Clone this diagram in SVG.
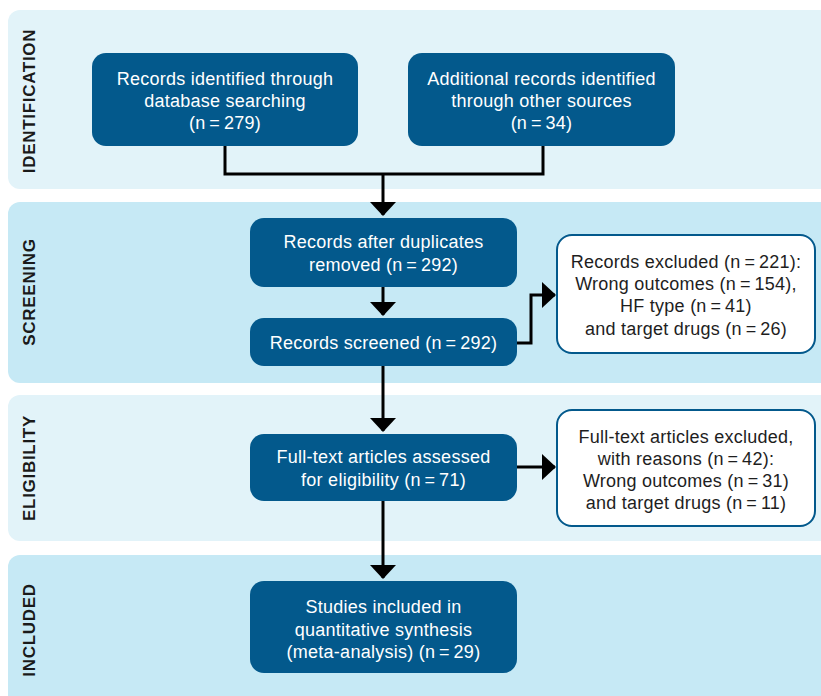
<svg xmlns="http://www.w3.org/2000/svg" width="821" height="696" viewBox="0 0 821 696">
<style>
.band1{fill:#e2f3f9}
.band2{fill:#c6e9f5}
.lab{font-family:"Liberation Sans",Arial,sans-serif;font-weight:bold;font-size:17px;fill:#1a1a1a;text-anchor:middle;letter-spacing:0.7px}
.nd{fill:#03598c}
.nt{font-family:"Liberation Sans",Arial,sans-serif;font-size:18px;fill:#ffffff;text-anchor:middle;letter-spacing:0.25px}
.ex{fill:#ffffff;stroke:#03598c;stroke-width:2}
.et{font-family:"Liberation Sans",Arial,sans-serif;font-size:18px;fill:#1e1e1e;text-anchor:middle;letter-spacing:0.25px}
.cn{fill:none;stroke:#000;stroke-width:3}
</style>
<defs>
<marker id="ah" viewBox="0 0 14 26" markerWidth="14" markerHeight="26" refX="13" refY="13" orient="auto" markerUnits="userSpaceOnUse">
<path d="M0,0 L14,13 L0,26 z" fill="#000"/>
</marker>
</defs>
<g id="bands">
<rect class="band1" x="8" y="10" width="830" height="179" rx="12"/>
<rect class="band2" x="8" y="202" width="830" height="181" rx="12"/>
<rect class="band1" x="8" y="395" width="830" height="146" rx="12"/>
<rect class="band2" x="8" y="555" width="830" height="160" rx="12"/>
<text class="lab" transform="translate(35,101) rotate(-90)">IDENTIFICATION</text>
<text class="lab" transform="translate(35,292) rotate(-90)">SCREENING</text>
<text class="lab" transform="translate(35,468) rotate(-90)">ELIGIBILITY</text>
<text class="lab" transform="translate(35,630) rotate(-90)">INCLUDED</text>
</g>
<g id="connectors">
<path class="cn" d="M225,146 V174 H543 V146"/>
<path class="cn" d="M383,174 V215" marker-end="url(#ah)"/>
<path class="cn" d="M383,287 V315" marker-end="url(#ah)"/>
<path class="cn" d="M517,343 H531 V295 H555" marker-end="url(#ah)"/>
<path class="cn" d="M383,366 V431" marker-end="url(#ah)"/>
<path class="cn" d="M517,467 H555" marker-end="url(#ah)"/>
<path class="cn" d="M383,501 V578" marker-end="url(#ah)"/>
</g>
<g id="n1">
<rect class="nd" x="92" y="53" width="266" height="93" rx="14"/>
<text class="nt" x="225" y="85">Records identified through</text>
<text class="nt" x="225" y="107">database searching</text>
<text class="nt" x="225" y="129">(n&#8201;=&#8201;279)</text>
</g>
<g id="n2">
<rect class="nd" x="408" y="53" width="267" height="93" rx="14"/>
<text class="nt" x="541.5" y="85">Additional records identified</text>
<text class="nt" x="541.5" y="107">through other sources</text>
<text class="nt" x="541.5" y="129">(n&#8201;=&#8201;34)</text>
</g>
<g id="n3">
<rect class="nd" x="250" y="218" width="267" height="69" rx="14"/>
<text class="nt" x="383.5" y="248">Records after duplicates</text>
<text class="nt" x="383.5" y="271">removed (n&#8201;=&#8201;292)</text>
</g>
<g id="n4">
<rect class="nd" x="250" y="318" width="267" height="48" rx="14"/>
<text class="nt" x="383.5" y="349">Records screened (n&#8201;=&#8201;292)</text>
</g>
<g id="x1">
<rect class="ex" x="557" y="235" width="258" height="118" rx="15"/>
<text class="et" x="686" y="268">Records excluded (n&#8201;=&#8201;221):</text>
<text class="et" x="686" y="290">Wrong outcomes (n&#8201;=&#8201;154),</text>
<text class="et" x="686" y="312">HF type (n&#8201;=&#8201;41)</text>
<text class="et" x="686" y="335">and target drugs (n&#8201;=&#8201;26)</text>
</g>
<g id="n5">
<rect class="nd" x="250" y="434" width="267" height="67" rx="14"/>
<text class="nt" x="383.5" y="463">Full-text articles assessed</text>
<text class="nt" x="383.5" y="486">for eligibility (n&#8201;=&#8201;71)</text>
</g>
<g id="x2">
<rect class="ex" x="557" y="410" width="258" height="116" rx="15"/>
<text class="et" x="686" y="443">Full-text articles excluded,</text>
<text class="et" x="686" y="465">with reasons (n&#8201;=&#8201;42):</text>
<text class="et" x="686" y="487">Wrong outcomes (n&#8201;=&#8201;31)</text>
<text class="et" x="686" y="509">and target drugs (n&#8201;=&#8201;11)</text>
</g>
<g id="n6">
<rect class="nd" x="250" y="581" width="267" height="92" rx="14"/>
<text class="nt" x="383.5" y="613">Studies included in</text>
<text class="nt" x="383.5" y="636">quantitative synthesis</text>
<text class="nt" x="383.5" y="658">(meta-analysis) (n&#8201;=&#8201;29)</text>
</g>
</svg>
